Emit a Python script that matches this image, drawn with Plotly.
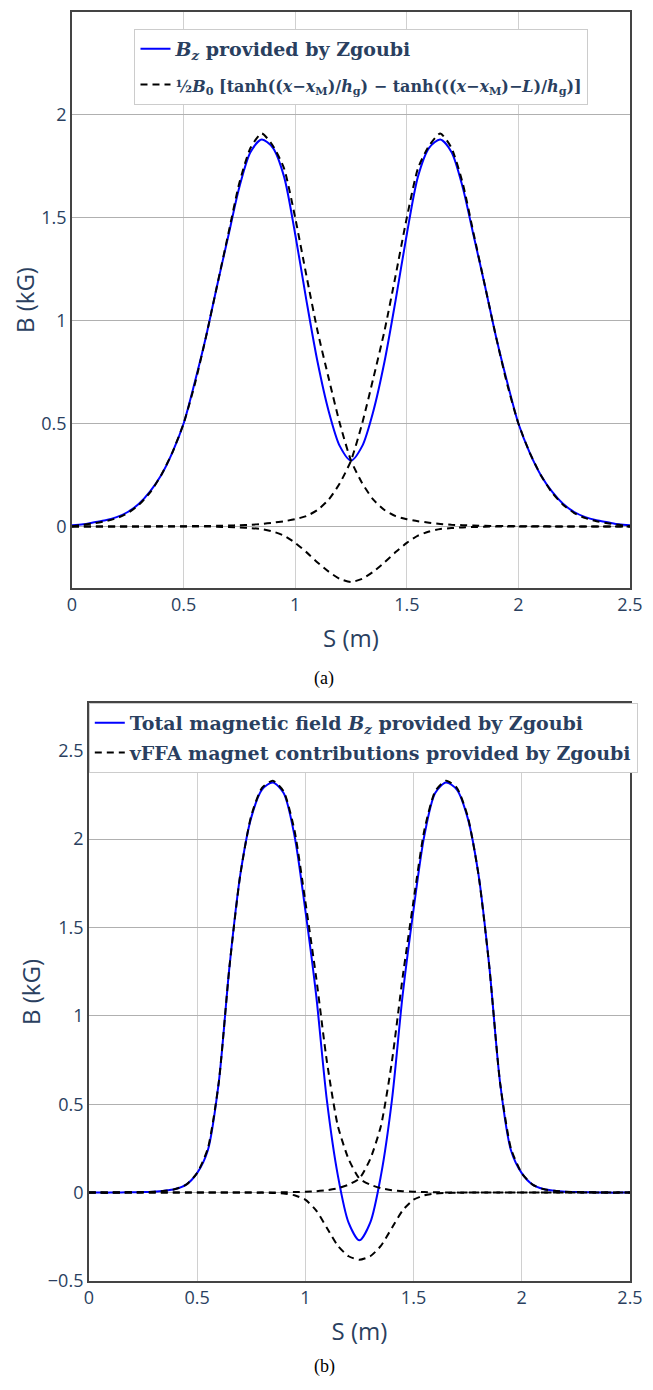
import plotly.graph_objects as go

# ---------------- data: panel (a) ----------------
S_a = [0.00, 0.05, 0.10, 0.15, 0.20, 0.25, 0.30, 0.35, 0.40, 0.45,
       0.50, 0.55, 0.60, 0.65, 0.70, 0.75, 0.80, 0.85, 0.90, 0.95,
       1.00, 1.05, 1.10, 1.15, 1.20, 1.25, 1.30, 1.35, 1.40, 1.45,
       1.50, 1.55, 1.60, 1.65, 1.70, 1.75, 1.80, 1.85, 1.90, 1.95,
       2.00, 2.05, 2.10, 2.15, 2.20, 2.25, 2.30, 2.35, 2.40, 2.45, 2.50]

bz_a = [0.005, 0.01, 0.02, 0.03, 0.045, 0.07, 0.11, 0.17, 0.25, 0.36,
        0.50, 0.70, 0.92, 1.17, 1.41, 1.65, 1.82, 1.88, 1.84, 1.70,
        1.42, 1.10, 0.80, 0.56, 0.39, 0.32, 0.39, 0.56, 0.80, 1.10,
        1.42, 1.70, 1.84, 1.88, 1.82, 1.65, 1.41, 1.17, 0.92, 0.70,
        0.50, 0.36, 0.25, 0.17, 0.11, 0.07, 0.045, 0.03, 0.02, 0.01, 0.005]

fit1_a = [0.0, 0.008, 0.015, 0.025, 0.04, 0.065, 0.105, 0.165, 0.25, 0.36,
          0.50, 0.69, 0.92, 1.17, 1.42, 1.67, 1.84, 1.91, 1.85, 1.74,
          1.50, 1.22, 0.95, 0.72, 0.50, 0.32, 0.21, 0.13, 0.08, 0.05,
          0.035, 0.025, 0.018, 0.012, 0.008, 0.006, 0.004, 0.003, 0.002, 0.002,
          0.001, 0.001, 0.001, 0.0, 0.0, 0.0, 0.0, 0.0, 0.0, 0.0, 0.0]

fit2_a = [0.0, 0.0, 0.0, 0.0, 0.0, 0.0, 0.0, 0.0, 0.001, 0.001,
          0.001, 0.002, 0.002, 0.003, 0.004, 0.006, 0.008, 0.012, 0.018, 0.025,
          0.035, 0.05, 0.08, 0.13, 0.21, 0.32, 0.50, 0.72, 0.95, 1.22,
          1.50, 1.74, 1.85, 1.91, 1.84, 1.67, 1.42, 1.17, 0.92, 0.69,
          0.50, 0.36, 0.25, 0.165, 0.105, 0.065, 0.04, 0.025, 0.015, 0.008, 0.0]

fit3_a = [0.0, 0.0, 0.0, 0.0, 0.0, 0.0, 0.0, 0.0, 0.0, 0.0,
          0.0, 0.0, 0.0, -0.002, -0.003, -0.005, -0.008, -0.013, -0.025, -0.045,
          -0.08, -0.125, -0.175, -0.22, -0.255, -0.27, -0.255, -0.22, -0.175, -0.125,
          -0.08, -0.045, -0.025, -0.013, -0.008, -0.005, -0.003, -0.002, 0.0, 0.0,
          0.0, 0.0, 0.0, 0.0, 0.0, 0.0, 0.0, 0.0, 0.0, 0.0, 0.0]

# ---------------- data: panel (b) ----------------
S_b = [0.00, 0.05, 0.10, 0.15, 0.20, 0.25, 0.30, 0.35, 0.40, 0.45,
       0.50, 0.55, 0.60, 0.65, 0.70, 0.75, 0.80, 0.85, 0.90, 0.95,
       1.00, 1.05, 1.10, 1.15, 1.20, 1.25, 1.30, 1.35, 1.40, 1.45,
       1.50, 1.55, 1.60, 1.65, 1.70, 1.75, 1.80, 1.85, 1.90, 1.95,
       2.00, 2.05, 2.10, 2.15, 2.20, 2.25, 2.30, 2.35, 2.40, 2.45, 2.50]

bz_b = [0.0, 0.0, 0.0, 0.001, 0.002, 0.003, 0.005, 0.01, 0.02, 0.045,
        0.11, 0.24, 0.62, 1.28, 1.80, 2.12, 2.28, 2.32, 2.26, 2.02,
        1.60, 1.12, 0.52, 0.10, -0.17, -0.27, -0.17, 0.10, 0.52, 1.12,
        1.60, 2.02, 2.26, 2.32, 2.28, 2.12, 1.80, 1.28, 0.62, 0.24,
        0.11, 0.045, 0.02, 0.01, 0.005, 0.003, 0.002, 0.001, 0.0, 0.0, 0.0]

mag1_b = [0.0, 0.0, 0.0, 0.001, 0.002, 0.003, 0.005, 0.01, 0.02, 0.045,
          0.11, 0.25, 0.62, 1.28, 1.80, 2.13, 2.29, 2.33, 2.27, 2.05,
          1.65, 1.22, 0.74, 0.38, 0.19, 0.08, 0.045, 0.025, 0.014, 0.008,
          0.005, 0.003, 0.002, 0.001, 0.0, 0.0, 0.0, 0.0, 0.0, 0.0,
          0.0, 0.0, 0.0, 0.0, 0.0, 0.0, 0.0, 0.0, 0.0, 0.0, 0.0]

mag2_b = [0.0, 0.0, 0.0, 0.0, 0.0, 0.0, 0.0, 0.0, 0.0, 0.0,
          0.0, 0.0, 0.0, 0.0, 0.0, 0.0, 0.0, 0.001, 0.002, 0.003,
          0.005, 0.008, 0.014, 0.025, 0.045, 0.08, 0.19, 0.38, 0.74, 1.22,
          1.65, 2.05, 2.27, 2.33, 2.29, 2.13, 1.80, 1.28, 0.62, 0.25,
          0.11, 0.045, 0.02, 0.01, 0.005, 0.003, 0.002, 0.001, 0.0, 0.0, 0.0]

mag3_b = [0.0, 0.0, 0.0, 0.0, 0.0, 0.0, 0.0, 0.0, 0.0, 0.0,
          0.0, 0.0, 0.0, 0.0, 0.0, 0.0, 0.0, -0.002, -0.005, -0.015,
          -0.04, -0.10, -0.20, -0.30, -0.36, -0.38, -0.36, -0.30, -0.20, -0.10,
          -0.04, -0.015, -0.005, -0.002, 0.0, 0.0, 0.0, 0.0, 0.0, 0.0,
          0.0, 0.0, 0.0, 0.0, 0.0, 0.0, 0.0, 0.0, 0.0, 0.0, 0.0]

x_ticks = [0, 0.5, 1, 1.5, 2, 2.5]
x_tick_text = ["0", "0.5", "1", "1.5", "2", "2.5"]

name_bz_a = "<b><i>B</i><sub><i>z</i></sub> provided by Zgoubi</b>"
name_fit_a = ("<b><span style=\"font-size:16px\">½<i>B</i><sub>0</sub> [tanh((<i>x</i>−<i>x</i><sub>M</sub>)/<i>h</i><sub>g</sub>)"
              " − tanh(((<i>x</i>−<i>x</i><sub>M</sub>)−<i>L</i>)/<i>h</i><sub>g</sub>)]</span></b>")
name_bz_b = "<b>Total magnetic field <i>B</i><sub><i>z</i></sub> provided by Zgoubi</b>"
name_mag_b = "<b>vFFA magnet contributions provided by Zgoubi</b>"

BLUE = "#0000ff"
DASH = "7px,5px"

fig = go.Figure()

def solid():
    return dict(color=BLUE, width=2, shape="spline", smoothing=0.8)

def dashed():
    return dict(color="black", width=2, dash=DASH, shape="spline", smoothing=0.6)

# panel (a)
fig.add_trace(go.Scatter(x=S_a, y=bz_a, mode="lines", name=name_bz_a, line=solid(),
                         xaxis="x", yaxis="y", legend="legend", legendgroup="a1"))
fig.add_trace(go.Scatter(x=S_a, y=fit1_a, mode="lines", name=name_fit_a, line=dashed(),
                         xaxis="x", yaxis="y", legend="legend", legendgroup="a2"))
fig.add_trace(go.Scatter(x=S_a, y=fit2_a, mode="lines", showlegend=False, line=dashed(),
                         xaxis="x", yaxis="y", legend="legend", legendgroup="a2"))
fig.add_trace(go.Scatter(x=S_a, y=fit3_a, mode="lines", showlegend=False, line=dashed(),
                         xaxis="x", yaxis="y", legend="legend", legendgroup="a2"))

# panel (b)
fig.add_trace(go.Scatter(x=S_b, y=bz_b, mode="lines", name=name_bz_b, line=solid(),
                         xaxis="x2", yaxis="y2", legend="legend2", legendgroup="b1"))
fig.add_trace(go.Scatter(x=S_b, y=mag1_b, mode="lines", name=name_mag_b, line=dashed(),
                         xaxis="x2", yaxis="y2", legend="legend2", legendgroup="b2"))
fig.add_trace(go.Scatter(x=S_b, y=mag2_b, mode="lines", showlegend=False, line=dashed(),
                         xaxis="x2", yaxis="y2", legend="legend2", legendgroup="b2"))
fig.add_trace(go.Scatter(x=S_b, y=mag3_b, mode="lines", showlegend=False, line=dashed(),
                         xaxis="x2", yaxis="y2", legend="legend2", legendgroup="b2"))

axis_common = dict(showline=True, mirror=True, linecolor="#444444", linewidth=1.5,
                   ticks="", tickfont=dict(size=18, color="#2a3f5f"),
                   title_font=dict(size=24, color="#2a3f5f"), zeroline=False)

fig.update_layout(
    width=653, height=1390,
    margin=dict(l=72, r=17, t=10, b=109),
    paper_bgcolor="white", plot_bgcolor="white",
    font=dict(color="#2a3f5f"),
    xaxis=dict(domain=[0, 1], range=[0, 2.5], anchor="y", tickvals=x_ticks, ticktext=x_tick_text,
               gridcolor="#d0d0d0", title_text="S (m)", **axis_common),
    yaxis=dict(domain=[0.546, 1], range=[-0.3, 2.5], anchor="x", dtick=0.5,
               gridcolor="#b0b0b0", title_text="B (kG)", title_standoff=0, **axis_common),
    xaxis2=dict(domain=[0.0301, 1], range=[0, 2.5], anchor="y2", tickvals=x_ticks, ticktext=x_tick_text,
                gridcolor="#d0d0d0", title_text="S (m)", **axis_common),
    yaxis2=dict(domain=[0, 0.4555], range=[-0.5, 2.77], anchor="x2", dtick=0.5,
                gridcolor="#b0b0b0", title_text="B (kG)", title_standoff=0, **axis_common),
    legend=dict(x=0.112, y=0.9866, xanchor="left", yanchor="top",
                bgcolor="white", bordercolor="#cccccc", borderwidth=1,
                font=dict(family="DejaVu Serif", size=19, color="#2a3f5f"),
                tracegroupgap=8),
    legend2=dict(x=0.0301, y=0.4555, xanchor="left", yanchor="top",
                 bgcolor="white", bordercolor="#cccccc", borderwidth=1,
                 font=dict(family="DejaVu Serif", size=19, color="#2a3f5f"),
                 tracegroupgap=2),
    annotations=[
        dict(text="(a)", x=0.452, y=0.4744, xref="paper", yref="paper", showarrow=False,
             xanchor="center", yanchor="middle",
             font=dict(family="Liberation Serif", size=18, color="black")),
        dict(text="(b)", x=0.452, y=-0.0677, xref="paper", yref="paper", showarrow=False,
             xanchor="center", yanchor="middle",
             font=dict(family="Liberation Serif", size=18, color="black")),
    ],
)

fig.write_html("out.html", config={"displayModeBar": False},
               post_script="document.body.style.margin='0';")
